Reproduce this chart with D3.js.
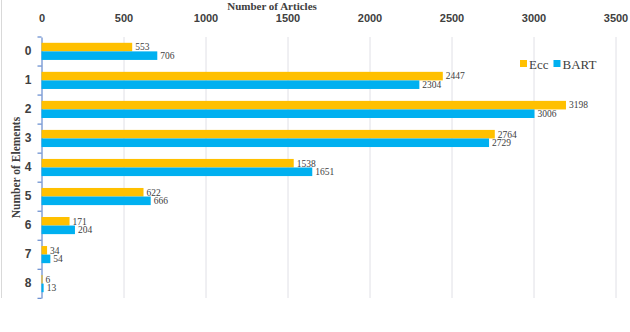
<!DOCTYPE html>
<html>
<head>
<meta charset="utf-8">
<script src="https://cdn.jsdelivr.net/npm/d3@7"></script>
<style>
  body { margin: 0; background: #fff; }
  svg { display: block; font-family: "Liberation Serif", "Times New Roman", serif; }
</style>
</head>
<body>
<div id="chart"></div>
<script>
var categories = ["0", "1", "2", "3", "4", "5", "6", "7", "8"];
var eccValues = [553, 2447, 3198, 2764, 1538, 622, 171, 34, 6];
var bartValues = [706, 2304, 3006, 2729, 1651, 666, 204, 54, 13];
var seriesNames = ["Ecc", "BART"];
var xTicks = [0, 500, 1000, 1500, 2000, 2500, 3000, 3500];

var width = 630, height = 332;
var margin = { top: 37, right: 14.5, bottom: 34, left: 41.5 };
var innerW = width - margin.left - margin.right;
var innerH = height - margin.top - margin.bottom;
var colors = { Ecc: "#FFC000", BART: "#00B0F0" };

var svg = d3.select("#chart").append("svg")
  .attr("width", width)
  .attr("height", height);

// faint frame line on the left
svg.append("line")
  .attr("x1", 1.5).attr("x2", 1.5)
  .attr("y1", 0).attr("y2", margin.top + innerH)
  .attr("stroke", "#d9d9d9");

var g = svg.append("g")
  .attr("transform", "translate(" + margin.left + "," + margin.top + ")");

var x = d3.scaleLinear().domain([0, 3500]).range([0, innerW]);
var y = d3.scaleBand().domain(categories).range([0, innerH]).paddingInner(0.41).paddingOuter(0.2);
var ySub = d3.scaleBand().domain(seriesNames).range([0, y.bandwidth()]);

// grid lines
g.append("g").selectAll("line")
  .data(xTicks.slice(1))
  .enter().append("line")
  .attr("x1", function (d) { return Math.round(x(d)) + 0.5; })
  .attr("x2", function (d) { return Math.round(x(d)) + 0.5; })
  .attr("y1", 0).attr("y2", innerH)
  .attr("stroke", "#e0e0e6");

// top axis
var xAxis = g.append("g")
  .call(d3.axisTop(x).tickValues(xTicks).tickSize(0).tickPadding(0).tickFormat(d3.format("d")));
xAxis.select(".domain").remove();
xAxis.selectAll("text")
  .attr("y", -15)
  .attr("dy", 0)
  .style("font-size", "11px")
  .style("font-weight", "bold")
  .attr("fill", "#404040");

svg.append("text")
  .attr("x", 272)
  .attr("y", 9.5)
  .attr("text-anchor", "middle")
  .style("font-size", "11px")
  .style("font-weight", "bold")
  .attr("fill", "#404040")
  .text("Number of Articles");

// left axis
var yStep = y.step();
var yAxis = g.append("g")
  .call(d3.axisLeft(y).tickSize(0).tickPadding(10));
yAxis.select(".domain").attr("stroke", "#4472C4");
yAxis.selectAll("text")
  .style("font-size", "12px")
  .style("font-weight", "bold")
  .attr("fill", "#404040");
g.append("g").selectAll("line")
  .data(d3.range(categories.length + 1))
  .enter().append("line")
  .attr("x1", -4).attr("x2", 0)
  .attr("y1", function (i) { return i * yStep; })
  .attr("y2", function (i) { return i * yStep; })
  .attr("stroke", "#4472C4");

svg.append("text")
  .attr("transform", "translate(20," + (margin.top + innerH / 2) + ") rotate(-90)")
  .attr("text-anchor", "middle")
  .style("font-size", "11.5px")
  .style("font-weight", "bold")
  .attr("fill", "#404040")
  .text("Number of Elements");

// bars
var rows = categories.map(function (c, i) {
  return { cat: c, values: [
    { name: "Ecc", value: eccValues[i] },
    { name: "BART", value: bartValues[i] }
  ] };
});

var groups = g.selectAll(".cat")
  .data(rows)
  .enter().append("g")
  .attr("transform", function (d) { return "translate(0," + y(d.cat) + ")"; });

groups.selectAll("rect")
  .data(function (d) { return d.values; })
  .enter().append("rect")
  .attr("x", 0)
  .attr("y", function (d) { return ySub(d.name); })
  .attr("width", function (d) { return x(d.value); })
  .attr("height", ySub.bandwidth())
  .attr("fill", function (d) { return colors[d.name]; });

groups.selectAll("text")
  .data(function (d) { return d.values; })
  .enter().append("text")
  .attr("x", function (d) { return x(d.value) + 3; })
  .attr("y", function (d) { return ySub(d.name) + ySub.bandwidth() / 2; })
  .attr("dy", "0.35em")
  .style("font-size", "9.5px")
  .attr("fill", "#404040")
  .text(function (d) { return d.value; });

// legend
var legend = svg.append("g").attr("transform", "translate(520,64)");
var lx = 0;
seriesNames.forEach(function (name) {
  legend.append("rect")
    .attr("x", lx).attr("y", -4)
    .attr("width", 7).attr("height", 7)
    .attr("fill", colors[name]);
  var t = legend.append("text")
    .attr("x", lx + 9)
    .attr("y", 0)
    .attr("dy", "0.35em")
    .style("font-size", "13px")
    .attr("fill", "#404040")
    .text(name);
  lx += 9 + t.node().getComputedTextLength() + 5;
});
</script>
</body>
</html>
